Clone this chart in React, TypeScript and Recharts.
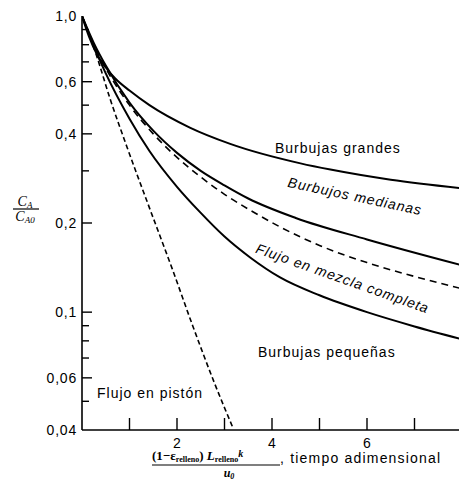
import React from 'react';
import { LineChart, Line, XAxis, YAxis, Customized } from 'recharts';

// ---- data (t = dimensionless time, c = CA/CA0) ----
const plugT = [0, 0.3, 0.6, 0.95, 1.42, 1.9, 2.33, 2.8, 3.18];
const plugC = [1, 0.74, 0.52, 0.36, 0.225, 0.14, 0.09, 0.057, 0.0406];

const mixedT = [0, 0.25, 0.5, 1, 1.5, 2, 2.5, 3, 3.54, 4.17, 5, 6, 7, 8];
const mixedC = [1, 0.8, 0.667, 0.5, 0.4, 0.333, 0.286, 0.25, 0.221, 0.194, 0.168, 0.147, 0.132, 0.12];

const smallT = [0, 0.25, 0.5, 1, 1.42, 2, 2.48, 3, 3.54, 4.17, 5, 6, 7, 8];
const smallC = [1, 0.79, 0.64, 0.45, 0.35, 0.265, 0.218, 0.18, 0.153, 0.131, 0.114, 0.1, 0.0895, 0.081];

const mediumT = [0, 0.25, 0.5, 1, 1.5, 2, 2.5, 3, 3.5, 4.5, 6, 8];
const mediumC = [1, 0.81, 0.68, 0.51, 0.41, 0.345, 0.3, 0.268, 0.242, 0.208, 0.176, 0.144];

const largeT = [0, 0.15, 0.3, 0.5, 0.7, 1, 1.42, 2.27, 3.12, 4.6, 5.23, 6.5, 8];
const largeC = [1, 0.85, 0.75, 0.67, 0.615, 0.56, 0.5, 0.42, 0.37, 0.318, 0.303, 0.28, 0.262];

const xTicks = [1, 2, 3, 4, 5, 6, 7];
const xLabelVals = [2, 4, 6];
const topTicks = [1, 2, 3];
const yTicks = [0.04, 0.05, 0.06, 0.07, 0.08, 0.09, 0.1, 0.2, 0.3, 0.4, 0.5, 0.6, 0.7, 0.8, 0.9, 1];
const yLabelVals = [1, 0.6, 0.4, 0.2, 0.1, 0.06, 0.04];
const yLabelTexts = ['1,0', '0,6', '0,4', '0,2', '0,1', '0,06', '0,04'];
const rightTicks = [0.05, 0.06, 0.07, 0.08, 0.09, 0.1, 0.2, 0.3, 0.4, 0.5, 0.6, 0.7];

const toPts = (ts: number[], cs: number[]) => ts.map((t, i) => ({ t, c: cs[i] }));
const plugData = toPts(plugT, plugC);
const mixedData = toPts(mixedT, mixedC);
const smallData = toPts(smallT, smallC);
const mediumData = toPts(mediumT, mediumC);
const largeData = toPts(largeT, largeC);

const SANS = 'Liberation Sans, Arial, Helvetica, sans-serif';
const SERIF = 'Liberation Serif, Times New Roman, serif';

const LeftTick = (props: any) => {
  const { x, y, payload } = props;
  const v = payload.value;
  const idx = yLabelVals.indexOf(v);
  const major = idx >= 0;
  return (
    <g>
      {v !== 1 && v !== 0.04 && (
        <line x1={x} x2={x + (major ? 10 : 7)} y1={y} y2={y} stroke="#000" strokeWidth={1.4} />
      )}
      {major && (
        <text x={x - 5} y={y} dy="0.36em" textAnchor="end" fontSize={14} letterSpacing={0.8} fontFamily={SANS} fill="#000">
          {yLabelTexts[idx]}
        </text>
      )}
    </g>
  );
};

const RightTick = (props: any) => {
  const { x, y, payload } = props;
  const v = payload.value;
  const major = yLabelVals.indexOf(v) >= 0;
  return <line x1={x} x2={x - (major ? 12 : 8)} y1={y} y2={y} stroke="#000" strokeWidth={1.4} />;
};

const BottomTick = (props: any) => {
  const { x, y, payload } = props;
  const v = payload.value;
  const lab = xLabelVals.indexOf(v) >= 0;
  return (
    <g>
      <line x1={x} x2={x} y1={y} y2={y - 12} stroke="#000" strokeWidth={1.4} />
      {lab && (
        <text x={x} y={y + 13} dy="0.36em" textAnchor="middle" fontSize={14} fontFamily={SANS} fill="#000">
          {v}
        </text>
      )}
    </g>
  );
};

const TopTick = (props: any) => {
  const { x, y, payload } = props;
  const v = payload.value;
  return <line x1={x} x2={x} y1={y} y2={y + (v === 2 ? 15 : 8)} stroke="#000" strokeWidth={1.4} />;
};

const Annotations = () => (
  <g fill="#000">
    <text x={275} y={153} fontSize={14} letterSpacing={1} fontFamily={SANS}>Burbujas grandes</text>
    <text
      x={354}
      y={201}
      fontSize={14}
      letterSpacing={1}
      fontStyle="italic"
      fontFamily={SANS}
      textAnchor="middle"
      transform="rotate(12 354 201)"
    >
      Burbujos medianas
    </text>
    <text
      x={341}
      y={283}
      fontSize={14}
      letterSpacing={1}
      fontStyle="italic"
      fontFamily={SANS}
      textAnchor="middle"
      transform="rotate(19.5 341 283)"
    >
      Flujo en mezcla completa
    </text>
    <text x={258} y={357} fontSize={14} letterSpacing={1} fontFamily={SANS}>Burbujas pequeñas</text>
    <text x={97} y={398} fontSize={14} letterSpacing={1} fontFamily={SANS}>Flujo en pistón</text>

    {/* y-axis label */}
    <text x={25} y={206} fontSize={14} fontStyle="italic" fontFamily={SERIF} textAnchor="middle">
      C<tspan fontSize={9} dy={2}>A</tspan>
    </text>
    <line x1={13} x2={39} y1={209} y2={209} stroke="#000" strokeWidth={1.2} />
    <text x={25} y={221} fontSize={14} fontStyle="italic" fontFamily={SERIF} textAnchor="middle">
      C<tspan fontSize={9} dy={2}>A0</tspan>
    </text>

    {/* x-axis label */}
    <text x={152} y={460} fontSize={13} fontWeight="bold" fontFamily={SERIF}>
      (1−ε<tspan fontSize={8} dy={2}>relleno</tspan>
      <tspan dy={-2}>) </tspan>
      <tspan fontStyle="italic">L</tspan>
      <tspan fontSize={8} dy={2}>relleno</tspan>
      <tspan dy={-5} fontStyle="italic" fontSize={10}>k</tspan>
    </text>
    <line x1={152} x2={280} y1={465} y2={465} stroke="#000" strokeWidth={1.2} />
    <text x={229} y={477} fontSize={12} fontWeight="bold" fontStyle="italic" fontFamily={SERIF} textAnchor="middle">
      u<tspan fontSize={8} dy={2}>0</tspan>
    </text>
    <text x={280} y={463} fontSize={14} letterSpacing={1.2} fontFamily={SANS}>, tiempo adimensional</text>
  </g>
);

export default function App() {
  return (
    <div style={{ position: 'absolute', left: 0, top: 0, width: 459, height: 482, overflow: 'hidden', background: '#fff' }}>
      <LineChart width={462} height={482} margin={{ top: 16, right: 0, left: 22, bottom: 22 }}>
        <XAxis
          xAxisId="b"
          type="number"
          dataKey="t"
          domain={[0, 8]}
          ticks={xTicks}
          interval={0}
          height={30}
          tickSize={0}
          tickMargin={0}
          tickLine={false}
          tick={<BottomTick />}
          axisLine={{ stroke: '#000', strokeWidth: 1.6 }}
          allowDataOverflow
        />
        <XAxis
          xAxisId="top"
          orientation="top"
          type="number"
          dataKey="t"
          domain={[0, 8]}
          ticks={topTicks}
          interval={0}
          height={0}
          tickSize={0}
          tickMargin={0}
          tickLine={false}
          tick={<TopTick />}
          axisLine={{ stroke: '#000', strokeWidth: 1.6 }}
          allowDataOverflow
        />
        <YAxis
          yAxisId="l"
          type="number"
          scale="log"
          domain={[0.04, 1]}
          ticks={yTicks}
          interval={0}
          width={60}
          tickSize={0}
          tickMargin={0}
          tickLine={false}
          tick={<LeftTick />}
          axisLine={{ stroke: '#000', strokeWidth: 1.6 }}
          allowDataOverflow
        />
        <YAxis
          yAxisId="r"
          orientation="right"
          type="number"
          scale="log"
          domain={[0.04, 1]}
          ticks={rightTicks}
          interval={0}
          width={0}
          tickSize={0}
          tickMargin={0}
          tickLine={false}
          tick={<RightTick />}
          axisLine={false}
          allowDataOverflow
        />
        <Line xAxisId="b" yAxisId="l" data={plugData} dataKey="c" type="monotone" stroke="#000" strokeWidth={1.6} strokeDasharray="5 3" dot={false} isAnimationActive={false} />
        <Line xAxisId="b" yAxisId="l" data={mixedData} dataKey="c" type="monotone" stroke="#000" strokeWidth={1.6} strokeDasharray="7 5" dot={false} isAnimationActive={false} />
        <Line xAxisId="b" yAxisId="l" data={smallData} dataKey="c" type="monotone" stroke="#000" strokeWidth={2} dot={false} isAnimationActive={false} />
        <Line xAxisId="b" yAxisId="l" data={mediumData} dataKey="c" type="monotone" stroke="#000" strokeWidth={2} dot={false} isAnimationActive={false} />
        <Line xAxisId="b" yAxisId="r" data={largeData} dataKey="c" type="monotone" stroke="#000" strokeWidth={2} dot={false} isAnimationActive={false} />
        <Customized component={Annotations} />
      </LineChart>
    </div>
  );
}
